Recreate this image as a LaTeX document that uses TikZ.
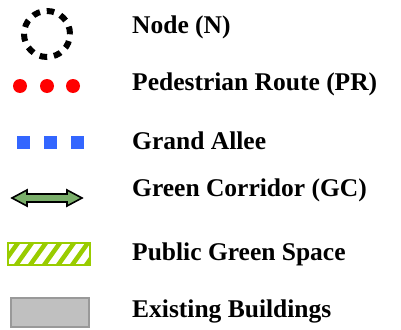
\documentclass[tikz,border=0pt]{standalone}
\usepackage{fontspec}
\setmainfont{Liberation Serif}
\usepackage{tikz}
\usetikzlibrary{arrows,shapes}
\definecolor{routered}{RGB}{255,0,0}
\definecolor{alleeblue}{RGB}{51,102,255}
\definecolor{corridorgreen}{RGB}{122,174,106}
\definecolor{spacegreen}{RGB}{153,204,0}
\definecolor{buildgray}{RGB}{192,192,192}
\definecolor{buildedge}{RGB}{153,153,153}
\tikzstyle{legendtext}=[anchor=west,inner sep=0pt,font=\fontsize{25.5}{30}\selectfont\bfseries]
\tikzstyle{dot}=[circle,fill=routered,minimum size=14pt,inner sep=0pt]
\tikzstyle{square}=[rectangle,fill=alleeblue,minimum size=13pt,inner sep=0pt]

\begin{document}
\begin{tikzpicture}[x=1pt,y=-1pt]
    \useasboundingbox (0,0) rectangle (401,329);
    % First the symbols
    \node[circle,draw=black,line width=6pt,dash pattern=on 7.5pt off 6.9pt,minimum size=46pt,inner sep=0pt] (node) at (47,34) {};
    \foreach \x/\name in {20/r1, 47/r2, 73/r3}
        \node[dot] (\name) at (\x,86) {};
    \foreach \x/\name in {23/b1, 50/b2, 77/b3}
        \node[square] (\name) at (\x,142) {};
    \draw[fill=corridorgreen,line width=1.6pt,line join=miter]
        (12,198) -- (27,190) -- (27,194) -- (67,194) -- (67,190) -- (82,198)
        -- (67,206) -- (67,202) -- (27,202) -- (27,206) -- cycle;
    \begin{scope}
        \clip (8,243) rectangle (90,265);
        \foreach \x in {0,14,...,110}
            \draw[spacegreen,line width=4.5pt] (\x,268) -- (\x+20,240);
    \end{scope}
    \draw[spacegreen,line width=2pt] (8,243) rectangle (90,265);
    \draw[fill=buildgray,draw=buildedge,line width=1.5pt] (11,298) rectangle (89,327);
    % Then the labels
    \foreach \y/\txt [count=\i] in {27/Node (N), 84/Pedestrian Route (PR), 141/Grand Allee, 190/Green Corridor (GC), 254/Public Green Space, 311/Existing Buildings}
        \node[legendtext] (t\i) at (132,\y) {\txt};
\end{tikzpicture}
\end{document}
